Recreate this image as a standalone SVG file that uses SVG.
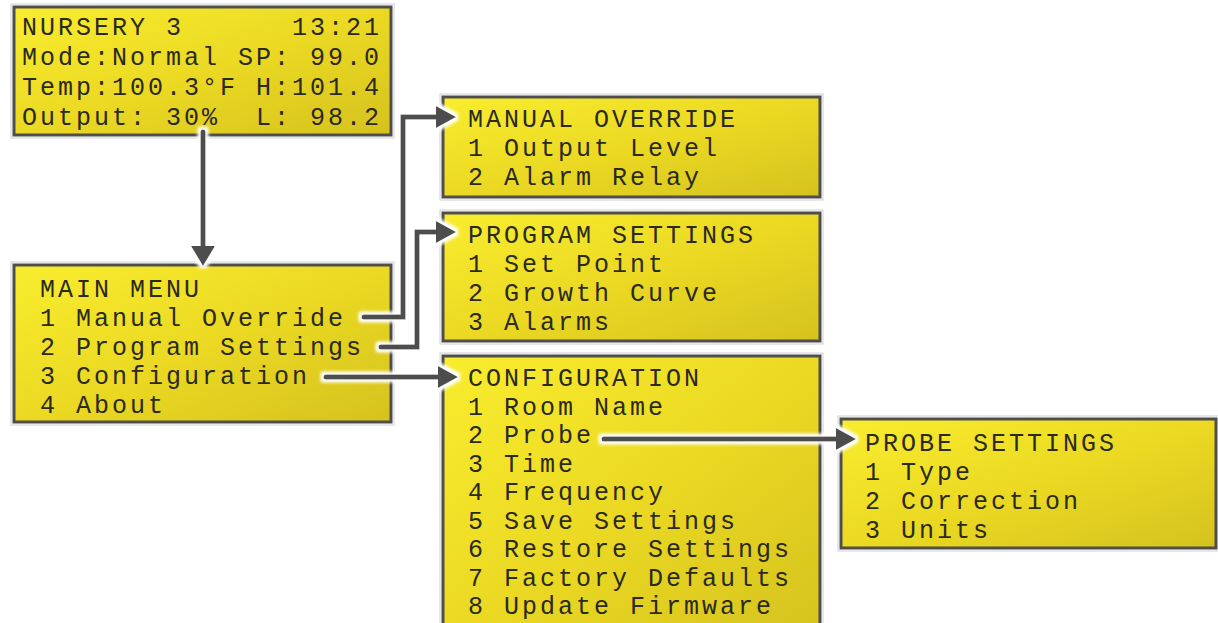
<svg xmlns="http://www.w3.org/2000/svg" width="1218" height="623" viewBox="0 0 1218 623">
<defs>
<linearGradient id="lcd" x1="0" y1="0" x2="1" y2="1">
<stop offset="0" stop-color="#f9ed2e"/>
<stop offset="0.5" stop-color="#ebd923"/>
<stop offset="1" stop-color="#d5c21e"/>
</linearGradient>
<filter id="glow" x="-20%" y="-20%" width="140%" height="140%">
<feMorphology in="SourceAlpha" operator="dilate" radius="3" result="d"/>
<feGaussianBlur in="d" stdDeviation="1.5" result="b"/>
<feFlood flood-color="#ffffff"/>
<feComposite in2="b" operator="in" result="w"/>
<feMerge><feMergeNode in="w"/><feMergeNode in="SourceGraphic"/></feMerge>
</filter>
</defs>
<style>
.box{fill:url(#lcd);stroke:#4e4e4e;stroke-width:3}
.halo{fill:none;stroke:#d0d0d0;stroke-width:1}
.t{font-family:"Liberation Mono","DejaVu Sans Mono",monospace;font-size:25px;letter-spacing:3px;fill:#2a2a20;white-space:pre}
.c{fill:none;stroke:#4d4d4d;stroke-width:5;stroke-linecap:round;stroke-linejoin:miter}
.h{fill:#4d4d4d}
</style>
<rect width="1218" height="623" fill="#ffffff"/>

<g id="status">
<rect class="halo" x="11" y="4" width="383" height="134"/>
<rect class="box" x="14" y="7" width="377" height="128"/>
<text class="t" xml:space="preserve" x="22" y="35">NURSERY 3      13:21</text>
<text class="t" xml:space="preserve" x="22" y="65">Mode:Normal SP: 99.0</text>
<text class="t" xml:space="preserve" x="22" y="95">Temp:100.3°F H:101.4</text>
<text class="t" xml:space="preserve" x="22" y="125">Output: 30%  L: 98.2</text>
</g>

<g id="main-menu">
<rect class="halo" x="11" y="262" width="383" height="163"/>
<rect class="box" x="14" y="265" width="377" height="157"/>
<text class="t" xml:space="preserve" x="40" y="297">MAIN MENU</text>
<text class="t" xml:space="preserve" x="40" y="326">1 Manual Override</text>
<text class="t" xml:space="preserve" x="40" y="355">2 Program Settings</text>
<text class="t" xml:space="preserve" x="40" y="384">3 Configuration</text>
<text class="t" xml:space="preserve" x="40" y="413">4 About</text>
</g>

<g id="manual-override">
<rect class="halo" x="440" y="94" width="383" height="106"/>
<rect class="box" x="443" y="97" width="377" height="100"/>
<text class="t" xml:space="preserve" x="468" y="127">MANUAL OVERRIDE</text>
<text class="t" xml:space="preserve" x="468" y="156">1 Output Level</text>
<text class="t" xml:space="preserve" x="468" y="185">2 Alarm Relay</text>
</g>

<g id="program-settings">
<rect class="halo" x="440" y="210" width="383" height="134"/>
<rect class="box" x="443" y="213" width="377" height="128"/>
<text class="t" xml:space="preserve" x="468" y="243">PROGRAM SETTINGS</text>
<text class="t" xml:space="preserve" x="468" y="272">1 Set Point</text>
<text class="t" xml:space="preserve" x="468" y="301">2 Growth Curve</text>
<text class="t" xml:space="preserve" x="468" y="330">3 Alarms</text>
</g>

<g id="configuration">
<rect class="halo" x="440" y="353" width="383" height="290"/>
<rect class="box" x="443" y="356" width="377" height="284"/>
<text class="t" xml:space="preserve" x="468" y="386">CONFIGURATION</text>
<text class="t" xml:space="preserve" x="468" y="414.5">1 Room Name</text>
<text class="t" xml:space="preserve" x="468" y="443">2 Probe</text>
<text class="t" xml:space="preserve" x="468" y="471.5">3 Time</text>
<text class="t" xml:space="preserve" x="468" y="500">4 Frequency</text>
<text class="t" xml:space="preserve" x="468" y="528.5">5 Save Settings</text>
<text class="t" xml:space="preserve" x="468" y="557">6 Restore Settings</text>
<text class="t" xml:space="preserve" x="468" y="585.5">7 Factory Defaults</text>
<text class="t" xml:space="preserve" x="468" y="614">8 Update Firmware</text>
</g>

<g id="probe-settings">
<rect class="halo" x="838" y="416" width="382" height="135"/>
<rect class="box" x="841" y="419" width="375" height="129"/>
<text class="t" xml:space="preserve" x="865" y="451">PROBE SETTINGS</text>
<text class="t" xml:space="preserve" x="865" y="480">1 Type</text>
<text class="t" xml:space="preserve" x="865" y="509">2 Correction</text>
<text class="t" xml:space="preserve" x="865" y="538">3 Units</text>
</g>

<g id="connectors" filter="url(#glow)">
<path class="c" d="M203 132 V248"/>
<polygon class="h" points="191,246 215,246 203,266"/>
<path class="c" d="M364 317 H403 V117 H438"/>
<polygon class="h" points="436,106 436,128 456,117"/>
<path class="c" d="M381 347 H417 V232 H438"/>
<polygon class="h" points="436,221 436,243 456,232"/>
<path class="c" d="M326 377 H440"/>
<polygon class="h" points="438,366 438,388 458,377"/>
<path class="c" d="M604 439 H838"/>
<polygon class="h" points="836,428 836,450 856,439"/>
</g>
</svg>
